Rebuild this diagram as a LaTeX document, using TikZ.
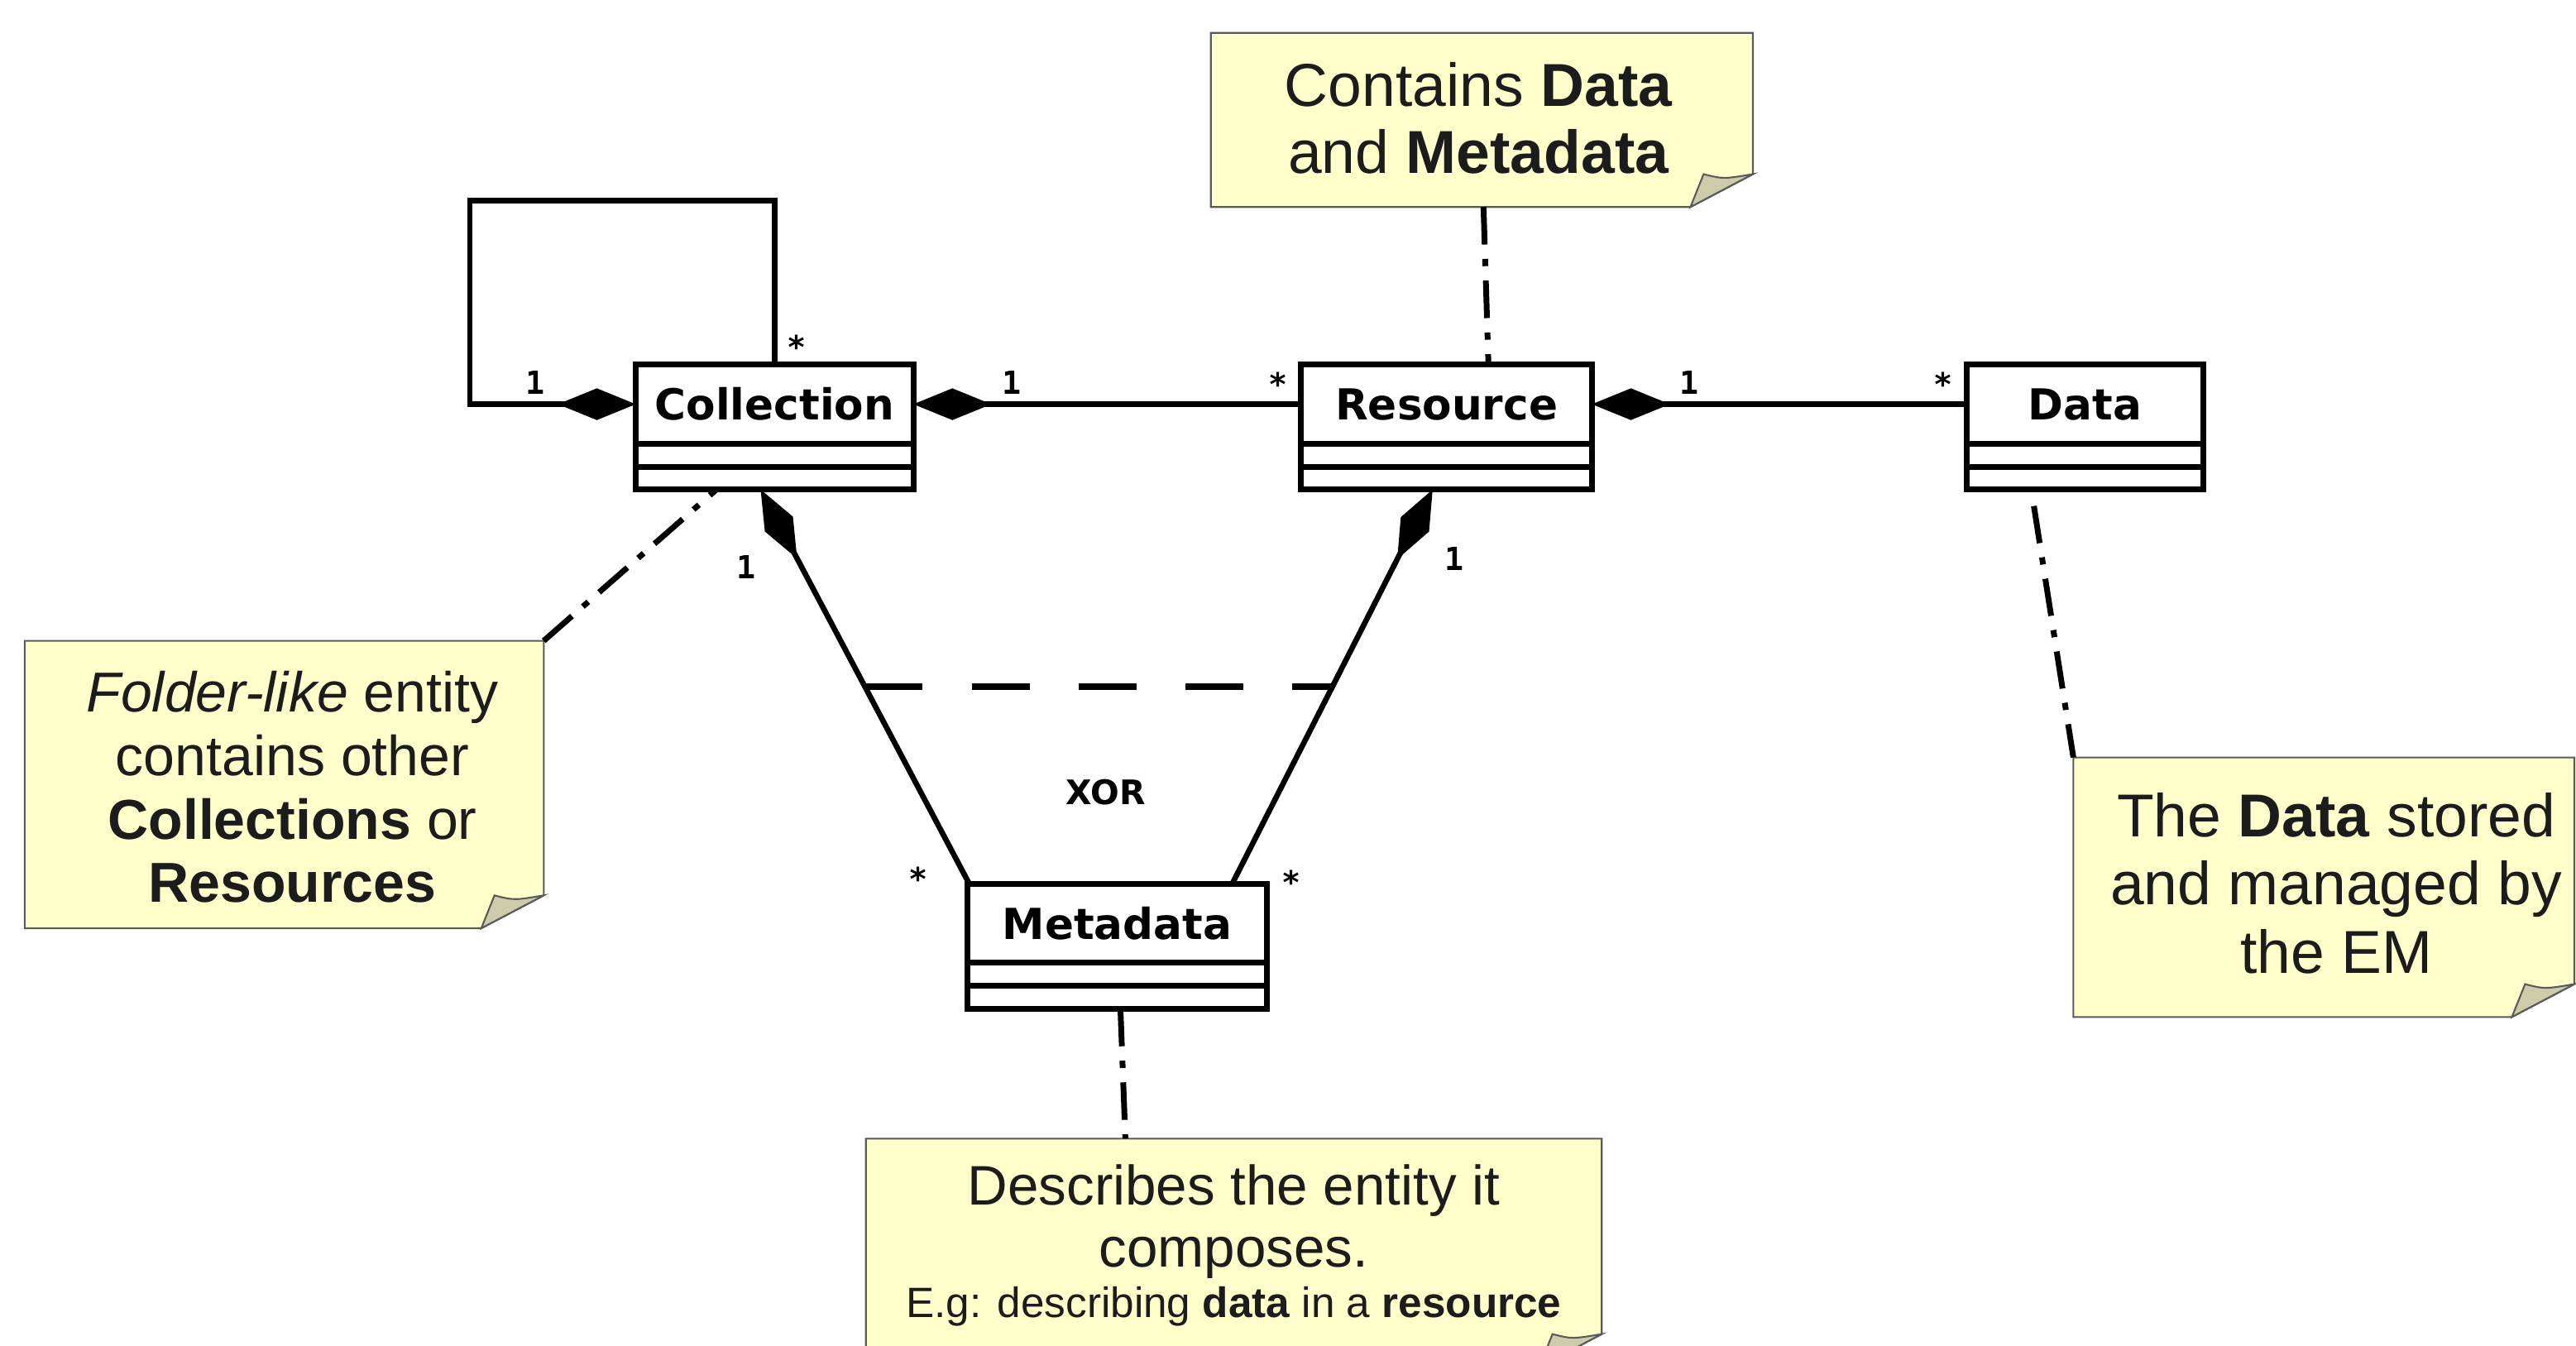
\documentclass[tikz,border=0pt]{standalone}
\usepackage{fontspec}
\setmainfont{Liberation Sans}
\newfontfamily\djv{DejaVu Sans}
\newfontfamily\djm{DejaVu Sans Mono}
\usetikzlibrary{arrows.meta,calc}
\definecolor{notebg}{RGB}{255,255,204}
\definecolor{notefoldc}{RGB}{204,204,170}
\definecolor{noteline}{RGB}{90,90,90}
\definecolor{notetxt}{RGB}{28,28,28}
\newcommand{\drawnote}[1]{%
  \filldraw[fill=notebg,draw=noteline,line width=0.6pt] (#1.north west) -- (#1.north east) -- ($(#1.south east)+(0,-20)$) -- ($(#1.south east)+(-38,0)$) -- (#1.south west) -- cycle;
  \filldraw[fill=notefoldc,draw=noteline,line width=0.6pt] ($(#1.south east)+(-38,0)$) -- ($(#1.south east)+(-30,-20)$) .. controls ($(#1.south east)+(-18,-17)$) .. ($(#1.south east)+(0,-20)$) -- cycle;}
\begin{document}
\begin{tikzpicture}[x=0.02cm,y=-0.02cm,
  cls/.style={draw,line width=2pt,inner sep=0pt,outer sep=0pt,fill=white,minimum height=1.52cm},
  sepline/.style={line width=2pt},
  cname/.style={font=\djv\bfseries\fontsize{14.8}{16}\selectfont,inner sep=0pt},
  mult/.style={font=\djm\bfseries\fontsize{11}{12}\selectfont,inner sep=0pt},
  assoc/.style={line width=1.9pt},
  comp/.style={arrows={Diamond[length=27pt,width=11pt]-}},
  notebox/.style={inner sep=0pt,outer sep=0pt},
  notetext/.style={align=center,inner sep=0pt,text=notetxt},
  anchorline/.style={line width=2pt,dash pattern=on 13pt off 5pt on 2.5pt off 5pt},
  xorline/.style={line width=2.4pt,dash pattern=on 20pt off 17pt}]
\useasboundingbox (0,0) rectangle (1568,819);

% classes
\node[cls,minimum width=3.38cm] (col) at (471.5,260) {};
\node[cls,minimum width=3.54cm] (res) at (880.5,260) {};
\node[cls,minimum width=2.88cm] (dat) at (1269,260) {};
\node[cls,minimum width=3.64cm] (met) at (680,576) {};
\foreach \c in {col,res,dat,met} {
  \draw[sepline] ($(\c.north west)+(0,48)$) -- ($(\c.north east)+(0,48)$);
  \draw[sepline] ($(\c.north west)+(0,62)$) -- ($(\c.north east)+(0,62)$);
}
\node[cname] (colN) at ($(col.north)+(0,24)$) {Collection};
\node[cname] (resN) at ($(res.north)+(0,24)$) {Resource};
\node[cname] (datN) at ($(dat.north)+(0,24)$) {Data};
\node[cname] (metN) at ($(met.north)+(0,24)$) {Metadata};

% connector end points
\coordinate (colL) at ($(col.north west)+(0,24)$);
\coordinate (colR) at ($(col.north east)+(0,24)$);
\coordinate (resL) at ($(res.north west)+(0,24)$);
\coordinate (resR) at ($(res.north east)+(0,24)$);
\coordinate (datL) at ($(dat.north west)+(0,24)$);
\coordinate (colB) at ($(col.south)+(-8.5,0)$);
\coordinate (resB) at ($(res.south)+(-8.5,0)$);
\coordinate (metL) at ($(met.north west)+(1,0)$);
\coordinate (metR) at ($(met.north east)+(-21,0)$);

% associations
\draw[assoc,comp] (colL) -- ++(-101,0) |- ($(col.north)+(0,-100)$) -- (col.north);
\draw[assoc,comp] (colR) -- (resL);
\draw[assoc,comp] (resR) -- (datL);
\draw[assoc,comp] (colB) -- (metL);
\draw[assoc,comp] (resB) -- (metR);
\draw[xorline] ($(colB)!0.5!(metL)$) -- ($(resB)!0.5!(metR)$);

% multiplicities
\node[mult] (m1) at (326,233) {1};
\node[mult] (m2) at (485,211) {*};
\node[mult] (m3) at (616,233) {1};
\node[mult] (m4) at (778,234) {*};
\node[mult] (m5) at (1028,233) {1};
\node[mult] (m6) at (1183,234) {*};
\node[mult] (m7) at (454,345) {1};
\node[mult] (m8) at (885,340) {1};
\node[mult] (m9) at (559,535) {*};
\node[mult] (m10) at (786,537) {*};
\node[font=\djv\bfseries\fontsize{11.7}{13}\selectfont,inner sep=0pt] (xor) at (673,482) {XOR};

% notes
\node[notebox,minimum width=6.6cm,minimum height=2.12cm] (cont) at (902,73) {};
\drawnote{cont}
\node[notetext,font=\fontsize{21}{23.3}\selectfont] (contT) at (900,72) {Contains \textbf{Data}\\and \textbf{Metadata}};

\node[notebox,minimum width=6.32cm,minimum height=3.5cm] (fnote) at (173,477.5) {};
\drawnote{fnote}
\node[notetext,font=\fontsize{19.5}{22}\selectfont] (fnoteT) at (178,479) {\textit{Folder-like} entity\\contains other\\\textbf{Collections} or\\\textbf{Resources}};

\node[notebox,minimum width=6.1cm,minimum height=3.16cm] (dnote) at (1414.5,540) {};
\drawnote{dnote}
\node[notetext,font=\fontsize{21}{23.6}\selectfont] (dnoteT) at (1422,537.5) {The \textbf{Data} stored\\and managed by\\the EM};

\node[notebox,minimum width=8.96cm,minimum height=2.78cm] (desc) at (751,762.5) {};
\drawnote{desc}
\node[notetext,font=\fontsize{19.3}{21.5}\selectfont] (descT) at (751,758) {Describes the entity it\\composes.\\[-4.2pt]{\fontsize{14.7}{17}\selectfont E.g: describing \textbf{data} in a \textbf{resource}}};

% note anchors
\draw[anchorline] ($(cont.south)+(1,0)$) -- ($(res.north)+(25.5,0)$);
\draw[anchorline] (fnote.north east) -- ($(col.south)+(-35.5,0)$);
\draw[anchorline] ($(dat.south)+(-31,10)$) -- (dnote.north west);
\draw[anchorline] ($(met.south)+(2,0)$) -- ($(desc.north)+(-66,0)$);
\end{tikzpicture}
\end{document}
